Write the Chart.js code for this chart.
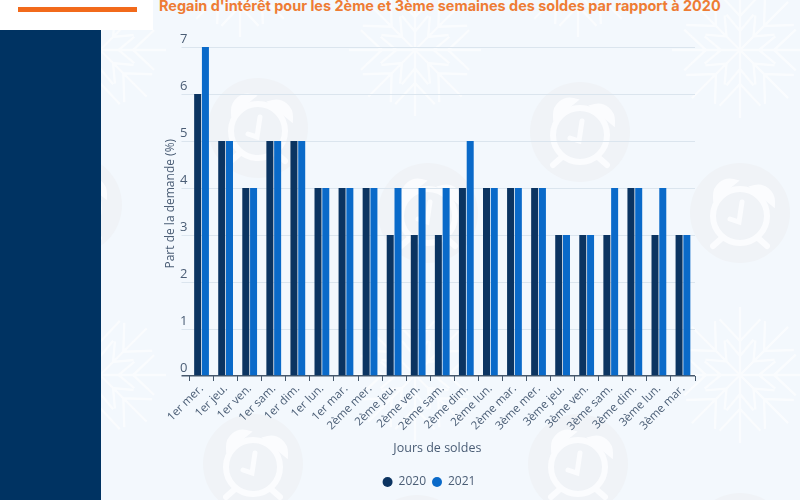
<!DOCTYPE html>
<html lang="fr">
<head>
<meta charset="utf-8">
<title>Regain d'intérêt</title>
<script src="https://cdn.jsdelivr.net/npm/chart.js@4"></script>
<style>
  html, body { margin: 0; padding: 0; }
  body { width: 800px; height: 500px; overflow: hidden; position: relative; background: #f3f8fd; }
  #decor { position: absolute; left: 0; top: 0; }
  #logo { position: absolute; left: 0; top: 0; width: 153px; height: 30px; background: #fff; }
  #logoBar { position: absolute; left: 18px; top: 7px; width: 119px; height: 5px; background: #f26a1b; }
  #panel { position: absolute; left: 0; top: 30px; width: 101px; height: 470px; background: #003362; }
  #title { position: absolute; left: 159px; top: -3px; white-space: nowrap; font: 700 14.45px Inter, sans-serif; color: #ee7c34; }
  #pnl { position: absolute; left: 89px; top: 0; }
</style>
</head>
<body>
<svg id="decor" width="800" height="500"></svg>
<div id="panel"></div>
<div id="logo"><div id="logoBar"></div></div>
<div id="title">Regain d'intérêt pour les 2ème et 3ème semaines des soldes par rapport à 2020</div>
<canvas id="pnl" width="646" height="500"></canvas>
<script>
const days = ["1er mer.", "1er jeu.", "1er ven.", "1er sam.", "1er dim.", "1er lun.", "1er mar.",
  "2ème mer.", "2ème jeu.", "2ème ven.", "2ème sam.", "2ème dim.", "2ème lun.", "2ème mar.",
  "3ème mer.", "3ème jeu.", "3ème ven.", "3ème sam.", "3ème dim.", "3ème lun.", "3ème mar."];
const values2020 = [6, 5, 4, 5, 5, 4, 4, 4, 3, 3, 3, 4, 4, 4, 4, 3, 3, 3, 4, 3, 3];
const values2021 = [7, 5, 4, 5, 5, 4, 4, 4, 4, 4, 4, 5, 4, 4, 4, 3, 3, 4, 4, 4, 3];

// background wallpaper, not data
const flakes = [[100, 50, 66], [240, -25, 62], [415, 50, 66], [578, -25, 62], [740, 50, 68],
  [100, 375, 66], [415, 375, 66], [740, 375, 68]];
const clocks = [[258, 128], [580, 132], [72, 205], [428, 213], [740, 213],
  [253, 464], [578, 464], [417, 545], [740, 543]];

function drawDecor() {
  let s = "";
  flakes.forEach(([x, y, r]) => {
    s += `<g transform="translate(${x} ${y})" stroke="#fff" stroke-width="2.4" fill="none" opacity="0.6">`;
    for (let a = 0; a < 360; a += 45) {
      s += `<g transform="rotate(${a})"><path d="M0 0V${-r}M${-r * 0.3} ${-r * 0.82}L0 ${-r * 0.5}L${r * 0.3} ${-r * 0.82}M${-r * 0.2} ${-r * 0.52}L0 ${-r * 0.28}L${r * 0.2} ${-r * 0.52}"/></g>`;
    }
    s += "</g>";
  });
  clocks.forEach(([x, y]) => {
    s += `<g transform="translate(${x} ${y})">
      <circle r="50" fill="#f0f3f7"/>
      <g fill="none" stroke="#fbfcfe" stroke-width="6" stroke-linecap="round">
        <circle cx="0" cy="3" r="27"/>
        <path d="M-24 -17A14 14 0 0 1 -7 -31Z"/>
        <path d="M24 -17A14 14 0 0 0 7 -31Z" transform="translate(8 6)"/>
        <path d="M-18 25L-27 33M18 25L27 33"/>
        <path d="M2 -11L-1 9L-10 6" stroke-width="5"/>
      </g>
    </g>`;
  });
  document.getElementById("decor").innerHTML = s;
}
drawDecor();

const textColor = "#4a5d75";
const axisDark = "#46586c";
const gridLight = "#dbe5ee";

new Chart(document.getElementById("pnl"), {
  type: "bar",
  data: {
    labels: days,
    datasets: [
      { label: "2020", data: values2020, backgroundColor: "#0b3461", categoryPercentage: 0.646, barPercentage: 0.9 },
      { label: "2021", data: values2021, backgroundColor: "#0a6ac9", categoryPercentage: 0.646, barPercentage: 0.9 },
    ],
  },
  options: {
    responsive: false,
    animation: false,
    layout: { padding: { left: 74, right: 40, top: 47, bottom: 2 } },
    plugins: {
      tooltip: { enabled: false },
      legend: {
        position: "bottom",
        labels: { usePointStyle: true, pointStyle: "circle", pointStyleWidth: 10, boxHeight: 7, padding: 6, color: textColor, font: { family: "Open Sans", size: 12 } },
      },
    },
    scales: {
      x: {
        afterFit: (s) => { s.height = 94; },
        border: { display: false },
        grid: { drawOnChartArea: false, tickColor: axisDark, tickLength: 5, lineWidth: 1 },
        ticks: { autoSkip: false, minRotation: 45, maxRotation: 45, padding: 1, color: textColor, font: { family: "Open Sans", size: 11.5 } },
        // trailing nbsp nudges the title left of the plot centre, like the reference
        title: { display: true, text: "Jours de soldes\u00a0\u00a0\u00a0", color: textColor, padding: { top: 0, bottom: 14.5 }, font: { family: "Open Sans", size: 12.5 } },
      },
      y: {
        min: 0,
        max: 7,
        afterFit: (s) => { s.width = 26.5; },
        border: { display: false },
        grid: {
          color: (c) => (c.tick.value === 0 ? axisDark : gridLight),
          lineWidth: (c) => (c.tick.value === 0 ? 1.5 : 1),
          tickLength: 8,
        },
        ticks: { stepSize: 1, padding: -6, labelOffset: -8, color: textColor, font: { family: "Open Sans", size: 13 } },
        // leading nbsp nudges the rotated title above the plot centre
        title: { display: true, text: "\u00a0\u00a0\u00a0\u00a0\u00a0Part de la demande (%)", color: textColor, padding: 0, font: { family: "Open Sans", size: 12 } },
      },
    },
  },
});
</script>
</body>
</html>
